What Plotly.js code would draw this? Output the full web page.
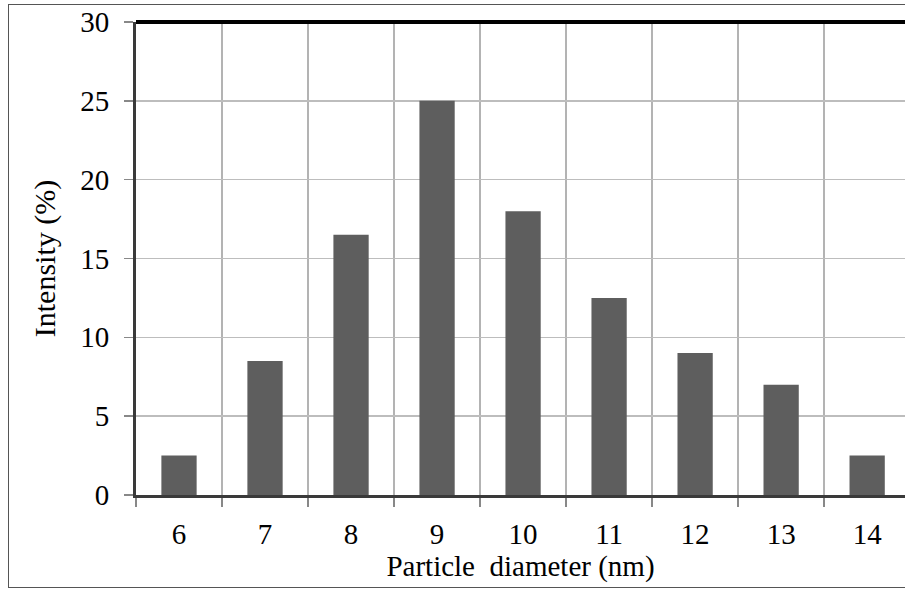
<!DOCTYPE html>
<html>
<head>
<meta charset="utf-8">
<script src="https://cdn.plot.ly/plotly-3.0.1.min.js"></script>
<style>
html,body{margin:0;padding:0;background:#fff;overflow:hidden;}
#wrap{position:relative;width:905px;height:590px;}
#frame{position:absolute;left:8px;top:4px;width:910px;height:584px;border:1px solid #555;box-sizing:border-box;pointer-events:none;}
#chart{position:absolute;left:0;top:0;width:905px;height:590px;}
</style>
</head>
<body>
<div id="wrap">
<div id="chart"></div>
<div id="frame"></div>
</div>
<script>
const diameters = ["6","7","8","9","10","11","12","13","14"];
const intensity = [2.5, 8.5, 16.5, 25, 18, 12.5, 9, 7, 2.5];
const yTicks = [0, 5, 10, 15, 20, 25, 30];

const font = "Liberation Serif, Times New Roman, serif";

const trace = {
  type: "bar",
  x: diameters,
  y: intensity,
  width: 0.41,
  marker: {color: "#5e5e5e", line: {width: 0}},
  hoverinfo: "skip"
};

const layout = {
  width: 905,
  height: 590,
  margin: {l: 136, r: 0, t: 22, b: 95},
  paper_bgcolor: "#ffffff",
  plot_bgcolor: "#ffffff",
  showlegend: false,
  font: {family: font, size: 29, color: "#000"},
  xaxis: {
    type: "category",
    range: [-0.5, 8.44],
    tickson: "boundaries",
    ticks: "outside",
    ticklen: 9,
    tickwidth: 1.5,
    tickcolor: "#888",
    showgrid: true,
    gridcolor: "#b3b3b3",
    gridwidth: 2,
    showline: true,
    linecolor: "#3a3a3a",
    linewidth: 3,
    tickfont: {family: font, size: 29, color: "#000"},
    ticklabelstandoff: 11,
    title: {text: "Particle&nbsp;&nbsp;diameter (nm)", font: {family: font, size: 29, color: "#000"}, standoff: 6},
    fixedrange: true
  },
  yaxis: {
    range: [0, 30],
    tickvals: yTicks,
    ticktext: yTicks.map(String),
    ticks: "outside",
    ticklen: 9,
    tickwidth: 1.5,
    tickcolor: "#888",
    showgrid: true,
    gridcolor: "#bdbdbd",
    gridwidth: 1.5,
    zeroline: false,
    showline: true,
    linecolor: "#3a3a3a",
    linewidth: 3,
    tickfont: {family: font, size: 29, color: "#000"},
    ticklabelstandoff: 9,
    title: {text: "Intensity (%)", font: {family: font, size: 30, color: "#000"}, standoff: 16},
    fixedrange: true
  },
  shapes: [
    {type: "line", xref: "paper", yref: "paper", x0: 0, x1: 1, y0: 1, y1: 1,
     line: {color: "#000", width: 4}}
  ]
};

Plotly.newPlot("chart", [trace], layout, {displayModeBar: false, staticPlot: true});
</script>
</body>
</html>
